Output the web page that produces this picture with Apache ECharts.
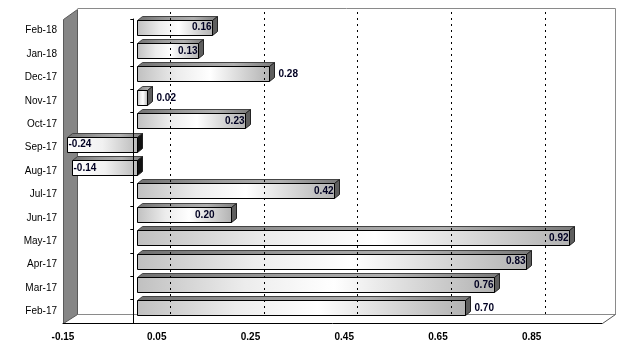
<!DOCTYPE html>
<html>
<head>
<meta charset="utf-8">
<title>Monthly values</title>
<script src="https://cdn.jsdelivr.net/npm/echarts@6/dist/echarts.min.js"></script>
<style>
html,body{margin:0;padding:0;background:#fff;}
#chart{width:637px;height:355px;}
</style>
</head>
<body>
<div id="chart"></div>
<script type="text/javascript">
// data, top row first
var months = ['Feb-18', 'Jan-18', 'Dec-17', 'Nov-17', 'Oct-17', 'Sep-17', 'Aug-17',
	'Jul-17', 'Jun-17', 'May-17', 'Apr-17', 'Mar-17', 'Feb-17'];
var values = [0.16, 0.13, 0.28, 0.02, 0.23, -0.24, -0.14, 0.42, 0.20, 0.92, 0.83, 0.76, 0.70];
var axisMin = -0.15;
var axisMax = 1.0;
var tickStep = 0.2;
var gridTicks = [0.05, 0.25, 0.45, 0.65, 0.85];

// where each value label sits (default: inside the bar end)
var labelOutside = {'Dec-17': 1, 'Nov-17': 1, 'Feb-17': 1};
var labelShift = {'Jun-17': -16};

var font = 'Arial, "Liberation Sans", sans-serif';
var G = echarts.graphic;

function isMajor(v) {
	var k = (v - axisMin) / tickStep;
	return Math.abs(k - Math.round(k)) < 1e-6;
}

function renderBar(params, api) {
	var v = api.value(0), idx = api.value(1);
	var cs = params.coordSys;
	var c0 = api.coord([0, idx]);
	var c1 = api.coord([v, idx]);
	var x1 = Math.max(c1[0], cs.x);
	var h = api.size([0, 1])[1] * 0.64;
	var dx = 4, dy = -3.5;   // bar sits a little into the depth
	var ox = 5, oy = -4;     // bar thickness
	var yc = c0[1] + dy;
	var top = Math.round(yc - h / 2) + 0.5, bot = top + Math.round(h);
	var L = Math.round(Math.min(c0[0], x1) + dx) + 0.5;
	var R = Math.round(Math.max(c0[0], x1) + dx) + 0.5;
	var neg = v < 0;
	var frontFill = neg ?
		new G.LinearGradient(0, 0, 1, 0, [{offset: 0, color: '#ffffff'}, {offset: 0.5, color: '#f1f1f1'}, {offset: 1, color: '#bababa'}]) :
		new G.LinearGradient(0, 0, 1, 0, [{offset: 0, color: '#c0c0c0'}, {offset: 0.3, color: '#ececec'}, {offset: 0.55, color: '#ffffff'}, {offset: 1, color: '#b2b2b2'}]);
	var topFill = new G.LinearGradient(0, 0, 1, 0, [{offset: 0, color: '#707070'}, {offset: 0.4, color: '#9c9c9c'}, {offset: 0.7, color: '#b0b0b0'}, {offset: 1, color: '#7a7a7a'}]);
	var name = months[idx];
	var txt = v.toFixed(2);
	var tx, align;
	if (neg) {
		tx = L + 1; align = 'left';
	} else if (labelOutside[name]) {
		tx = R + ox + 4; align = 'left';
	} else {
		tx = R - 1 + (labelShift[name] || 0); align = 'right';
	}
	return {
		type: 'group',
		children: [
			{type: 'polygon', shape: {points: [[L, top], [L + ox, top + oy], [R + ox, top + oy], [R, top]]},
				style: {fill: topFill, stroke: '#444', lineWidth: 1}},
			{type: 'polygon', shape: {points: [[R, top], [R + ox, top + oy], [R + ox, bot + oy], [R, bot]]},
				style: {fill: neg ? '#111' : '#5e5e5e', stroke: '#222', lineWidth: 1}},
			{type: 'rect', shape: {x: L, y: top, width: R - L, height: bot - top},
				style: {fill: frontFill, stroke: '#000', lineWidth: 1}},
			{type: 'text', x: tx, y: yc + 0.5,
				style: {text: txt, fill: '#000022', font: 'bold 10px ' + font, align: align, verticalAlign: 'middle'}}
		]
	};
}

var chart = echarts.init(document.getElementById('chart'));

var option = {
	backgroundColor: '#fff',
	animation: false,
	graphic: [
		// back wall outline and floor
		{type: 'polyline', z: 0, shape: {points: [[77.5, 8.5], [615.5, 8.5], [615.5, 314.5], [77.5, 314.5]]},
			style: {stroke: '#8a8a8a', lineWidth: 1, fill: null}},
		{type: 'line', z: 0, shape: {x1: 602.5, y1: 323.5, x2: 615.5, y2: 314.5},
			style: {stroke: '#555', lineWidth: 1}},
		// left wall
		{type: 'polygon', z: 0, shape: {points: [[63.5, 19.5], [77.5, 9.5], [77.5, 314.5], [63.5, 323.5]]},
			style: {fill: '#868686', stroke: '#5a5a5a', lineWidth: 1}}
	],
	grid: [
		{left: 63, right: 35, top: 19, bottom: 32},
		{left: 77, right: 22, top: 8, bottom: 41}
	],
	xAxis: [
		{
			type: 'value', gridIndex: 0, min: axisMin, max: axisMax, interval: 0.05,
			axisLine: {show: true, lineStyle: {color: '#000', width: 1}},
			axisTick: {show: false},
			splitLine: {show: false},
			axisLabel: {
				margin: 9, color: '#000', fontSize: 10, fontWeight: 'bold', fontFamily: font,
				formatter: function (v) { return isMajor(v) ? v.toFixed(2) : ''; }
			}
		},
		{type: 'value', gridIndex: 1, min: axisMin, max: axisMax, show: false}
	],
	yAxis: [
		{
			type: 'category', gridIndex: 0, data: months, inverse: true,
			axisLine: {show: true, lineStyle: {color: '#000', width: 1}},
			axisTick: {show: true, length: 3, lineStyle: {color: '#000'}},
			axisLabel: {margin: 6, color: '#000', fontSize: 10, fontFamily: font}
		},
		{type: 'value', gridIndex: 1, min: 0, max: 1, show: false}
	],
	series: [
		{
			type: 'line', xAxisIndex: 1, yAxisIndex: 1, data: [], z: 1, silent: true,
			markLine: {
				symbol: 'none', silent: true, label: {show: false},
				lineStyle: {color: '#000', width: 1, type: [2, 4]},
				data: gridTicks.map(function (t) { return {xAxis: t}; })
			}
		},
		{
			type: 'line', xAxisIndex: 0, yAxisIndex: 0, data: [], z: 1, silent: true,
			markLine: {
				symbol: 'none', silent: true, label: {show: false},
				lineStyle: {color: '#000', width: 1, type: 'solid'},
				data: [{xAxis: 0}]
			}
		},
		{
			type: 'custom', xAxisIndex: 0, yAxisIndex: 0, z: 3,
			renderItem: renderBar,
			encode: {x: 0, y: 1},
			data: values.map(function (v, i) { return [v, i]; })
		}
	]
};
chart.setOption(option);
</script>
</body>
</html>
